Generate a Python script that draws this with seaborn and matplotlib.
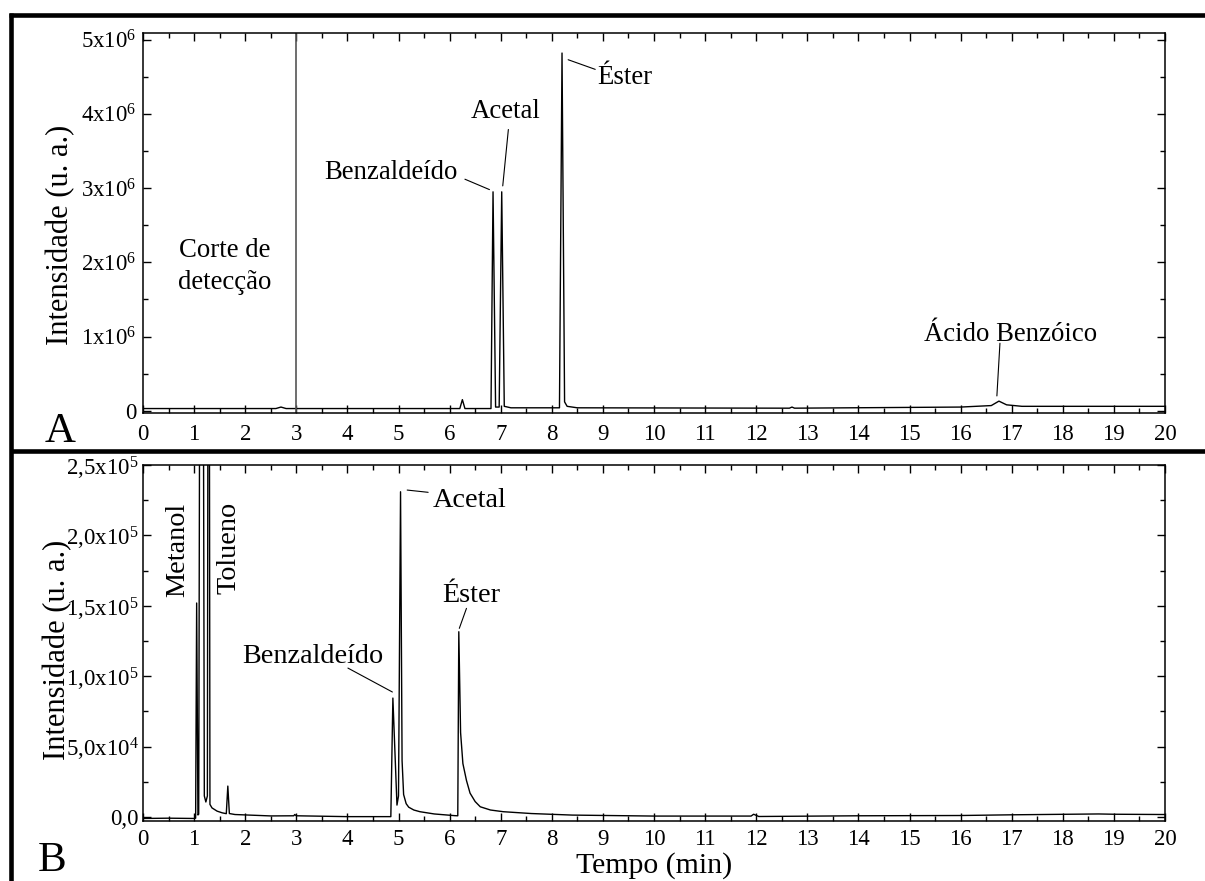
import matplotlib
matplotlib.use("Agg")
import matplotlib.pyplot as plt
from matplotlib.lines import Line2D
from matplotlib.ticker import MultipleLocator, FixedLocator, FixedFormatter
import seaborn as sns
import pandas as pd

# ---------------- data ----------------
# Panel A: chromatogram (time in min, intensity in 1e6 a.u.)
time_a = [0.0, 2.6, 2.7, 2.8, 5.5, 6.2, 6.25, 6.3, 6.81, 6.85, 6.9, 6.97,
          7.02, 7.07, 7.2, 8.15, 8.2, 8.25, 8.3, 8.5, 12.65, 12.7, 12.75,
          16.0, 16.6, 16.75, 16.9, 17.2, 20.0]
inten_a = [0.03, 0.03, 0.05, 0.03, 0.03, 0.03, 0.15, 0.03, 0.03, 2.95, 0.05,
           0.05, 2.95, 0.06, 0.04, 0.04, 4.82, 0.12, 0.06, 0.04, 0.035, 0.05,
           0.035, 0.05, 0.07, 0.13, 0.08, 0.06, 0.06]

# Panel B: chromatogram (time in min, intensity in a.u.)
time_b = [0.0, 0.5, 1.0, 1.03, 1.05, 1.075, 1.09, 1.145, 1.2, 1.23, 1.26,
          1.285, 1.31, 1.35, 1.45, 1.55, 1.63, 1.66, 1.69, 1.8, 2.5, 2.95,
          2.97, 3.0, 4.0, 4.85, 4.89, 4.97, 5.0, 5.04, 5.07, 5.1, 5.15, 5.2,
          5.3, 5.42, 5.7, 6.1, 6.16, 6.18, 6.215, 6.26, 6.33, 6.4, 6.5, 6.6,
          6.8, 7.05, 7.6, 8.4, 10.0, 11.9, 11.95, 12.05, 14.0, 16.0, 17.0,
          18.7, 19.0, 20.0]
inten_b = [-1000, -800, -1000, -800, 152000, 1500, 2000, 900000, 15000, 10700,
           15000, 700000, 9000, 6500, 4200, 3000, 2400, 22000, 2500, 1800, 800,
           900, 1800, 900, 300, 300, 84500, 8500, 15000, 231000, 40000, 16000,
           9500, 7000, 5000, 3800, 2200, 1000, 900, 131600, 60000, 38000,
           26000, 17000, 11000, 7300, 5000, 3800, 2500, 1400, 700, 700, 2000,
           400, 900, 1100, 1600, 2200, 2000, 1800]

# tick labels
yticks_a = [0, 1, 2, 3, 4, 5]
ylabels_a = ["0", "1x10$^{6}$", "2x10$^{6}$", "3x10$^{6}$", "4x10$^{6}$", "5x10$^{6}$"]
yticks_b = [0, 50000, 100000, 150000, 200000, 250000]
ylabels_b = ["0,0", "5,0x10$^{4}$", "1,0x10$^{5}$", "1,5x10$^{5}$",
             "2,0x10$^{5}$", "2,5x10$^{5}$"]
xticks = list(range(0, 21))

# peak labels: (text, text x, text y, ha, leader x0, leader y0, leader x1, leader y1)
labels_a = [
    ("Benzaldeído", 4.85, 3.12, "center", 6.30, 3.12, 6.78, 2.98),
    ("Acetal", 7.10, 3.95, "center", 7.15, 3.79, 7.04, 3.03),
    ("Éster", 8.88, 4.40, "left", 8.32, 4.73, 8.85, 4.60),
    ("Ácido Benzóico", 16.97, 0.94, "center", 16.77, 0.91, 16.71, 0.20),
]
labels_b = [
    ("Benzaldeído", 1.94, 109400, "left", 4.01, 105800, 4.88, 88800),
    ("Acetal", 5.66, 220000, "left", 5.17, 232200, 5.58, 230600),
    ("Éster", 5.85, 152700, "left", 6.33, 148200, 6.19, 134000),
]
rotated_b = [("Metanol", 0.685, 189600), ("Tolueno", 1.68, 191000)]

cutoff_time = 3.0

# ---------------- style ----------------
sns.set_theme(style="ticks")
plt.rcParams["font.family"] = ["Liberation Serif", "DejaVu Serif"]
plt.rcParams["mathtext.fontset"] = "custom"
plt.rcParams["mathtext.rm"] = "Liberation Serif"
plt.rcParams["mathtext.it"] = "Liberation Serif:italic"
plt.rcParams["mathtext.default"] = "regular"
plt.rcParams["axes.linewidth"] = 1.1
plt.rcParams["text.color"] = "black"
plt.rcParams["axes.labelcolor"] = "black"
plt.rcParams["xtick.color"] = "black"
plt.rcParams["ytick.color"] = "black"

FS_TICK = 16.5
FS_LABEL = 22
FS_ANN_A = 19.3
FS_ANN_B = 20.3

fig = plt.figure(figsize=(12.05, 8.81), dpi=100)
W, H = 1205.0, 881.0


def px_axes(left, top, right, bottom):
    return fig.add_axes([left / W, 1 - bottom / H, (right - left) / W, (bottom - top) / H])


ax_a = px_axes(143, 33, 1165, 413)
ax_b = px_axes(143, 465, 1165, 821)

df_a = pd.DataFrame({"t": time_a, "I": inten_a})
df_b = pd.DataFrame({"t": time_b, "I": inten_b})

sns.lineplot(data=df_a, x="t", y="I", ax=ax_a, color="black", lw=1.0,
             estimator=None, sort=False)
sns.lineplot(data=df_b, x="t", y="I", ax=ax_b, color="black", lw=1.0,
             estimator=None, sort=False)

ax_a.axvline(cutoff_time, color="#555555", lw=1.2)

for ax, xpad, ypad in ((ax_a, 8.0, 4.5), (ax_b, 5.5, 3.0)):
    ax.set_xlim(0, 20)
    ax.xaxis.set_major_locator(FixedLocator(xticks))
    ax.xaxis.set_minor_locator(MultipleLocator(0.5))
    ax.set_xticklabels([str(v) for v in xticks])
    ax.tick_params(which="both", direction="in", top=True, right=True,
                   labelsize=FS_TICK, colors="black", width=1.0)
    ax.tick_params(axis="x", which="both", pad=xpad)
    ax.tick_params(axis="y", which="both", pad=ypad)
    ax.tick_params(which="major", length=6)
    ax.tick_params(which="minor", length=3.5)
    for s in ax.spines.values():
        s.set_color("black")
        s.set_linewidth(1.1)
    ax.set_xlabel("")
    ax.set_ylabel("Intensidade (u. a.)", fontsize=FS_LABEL)

ax_a.yaxis.set_label_coords((75 - 143) / 1022, 0.47)
ax_b.yaxis.set_label_coords((72 - 143) / 1022, 0.48)

ax_a.set_ylim(-0.03, 5.09)
ax_a.yaxis.set_major_locator(FixedLocator(yticks_a))
ax_a.yaxis.set_major_formatter(FixedFormatter(ylabels_a))
ax_a.yaxis.set_minor_locator(MultipleLocator(0.5))

ax_b.set_ylim(-2800, 250000)
ax_b.yaxis.set_major_locator(FixedLocator(yticks_b))
ax_b.yaxis.set_major_formatter(FixedFormatter(ylabels_b))
ax_b.yaxis.set_minor_locator(MultipleLocator(25000))
ax_b.set_xlabel("Tempo (min)", fontsize=FS_LABEL - 0.5, labelpad=2)

# annotations
ax_a.text(1.6, 1.94, "Corte de\ndetecção", ha="center", va="center",
          fontsize=FS_ANN_A, linespacing=1.35)
for ax, lab, fs in ((ax_a, labels_a, FS_ANN_A), (ax_b, labels_b, FS_ANN_B)):
    for text, tx, ty, ha, x0, y0, x1, y1 in lab:
        ax.text(tx, ty, text, ha=ha, va="baseline", fontsize=fs)
        ax.plot([x0, x1], [y0, y1], color="black", lw=0.8)
for text, tx, ty in rotated_b:
    ax_b.text(tx, ty, text, rotation=90, ha="center", va="center", fontsize=FS_ANN_B)

# panel letters
fig.text(60 / W, 1 - 432 / H, "A", fontsize=31, ha="center", va="center")
fig.text(52 / W, 1 - 861 / H, "B", fontsize=31, ha="center", va="center")

# frame lines
lw_frame = 3.3
fig.add_artist(Line2D([8.5 / W, 1.0], [1 - 14.8 / H, 1 - 14.8 / H],
                      transform=fig.transFigure, color="black", lw=lw_frame,
                      solid_capstyle="butt"))
fig.add_artist(Line2D([10.5 / W, 10.5 / W], [0.0, 1 - 12.5 / H],
                      transform=fig.transFigure, color="black", lw=lw_frame,
                      solid_capstyle="butt"))
fig.add_artist(Line2D([10.5 / W, 1.0], [1 - 451 / H, 1 - 451 / H],
                      transform=fig.transFigure, color="black", lw=lw_frame,
                      solid_capstyle="butt"))

fig.savefig("out.png", dpi=100, facecolor="white")
